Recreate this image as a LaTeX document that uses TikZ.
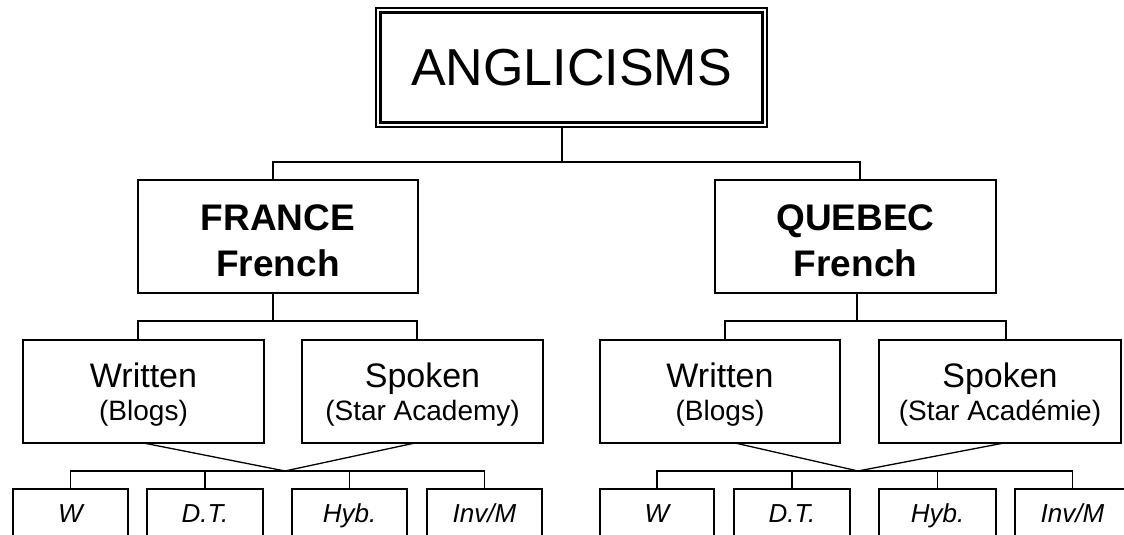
\documentclass[tikz,border=0pt]{standalone}
\usepackage{fontspec}
\setmainfont{Liberation Sans}
\begin{document}
\begin{tikzpicture}[x=1pt,y=1pt,
  box/.style={draw, line width=1.5pt, rectangle, inner sep=0pt, outer sep=0pt, align=center},
  topbox/.style={box, line width=1.2pt, minimum width=391pt, minimum height=119pt, font=\fontsize{52}{60}\selectfont},
  country/.style={box, minimum width=280pt, minimum height=113pt, font=\bfseries\fontsize{37}{46}\selectfont},
  medium/.style={box, minimum width=241pt, minimum height=103pt, font=\fontsize{28}{33}\selectfont},
  leaf/.style={draw, line width=1.5pt, rectangle, inner sep=0pt, outer sep=0pt, minimum width=115pt, minimum height=51pt, text height=22pt, text depth=5pt, font=\itshape\fontsize{26}{30}\selectfont},
  conn/.style={line width=1.3pt}]
\useasboundingbox (0,0) rectangle (1124,535);
\clip (0,0) rectangle (1124,535);

% top
\node[topbox] (ang) at (571.5,467.5) {ANGLICISMS};
\draw[line width=3.5pt] ([shift={(4.5,-4.5)}]ang.north west) rectangle ([shift={(-4.5,4.5)}]ang.south east);

% countries
\node[country] (fr) at (278,298.5) {\rule{0pt}{35pt}FRANCE\\French};
\node[country, minimum width=281pt] (qc) at (855.5,298.5) {\rule{0pt}{35pt}QUEBEC\\French};

% media
\node[medium] (fw) at (143.5,143.5) {{\fontsize{34}{33}\selectfont\rule{0pt}{30pt}Written}\\(Blogs)};
\node[medium] (fs) at (422.5,143.5) {{\fontsize{34}{33}\selectfont\rule{0pt}{30pt}Spoken}\\(Star Academy)};
\node[medium, minimum width=240pt] (qw) at (720,143.5) {{\fontsize{34}{33}\selectfont\rule{0pt}{30pt}Written}\\(Blogs)};
\node[medium, minimum width=242pt] (qs) at (1000,143.5) {{\fontsize{34}{33}\selectfont\rule{0pt}{30pt}Spoken}\\(Star Académie)};

% leaves
\node[leaf] (fl1) at (70.5,20.5) {W};
\node[leaf, minimum width=116pt] (fl2) at (205,20.5) {D.T.};
\node[leaf] (fl3) at (349.5,20.5) {Hyb.};
\node[leaf] (fl4) at (484.5,20.5) {Inv/M};
\node[leaf, minimum width=114pt] (ql1) at (657,20.5) {W};
\node[leaf, minimum width=116pt] (ql2) at (792,20.5) {D.T.};
\node[leaf, minimum width=117pt] (ql3) at (937.5,20.5) {Hyb.};
\node[leaf] (ql4) at (1072.5,20.5) {Inv/M};

% level 1 connectors
\coordinate (j0) at (562,373);
\draw[conn] ([xshift=-9.5pt]ang.south) -- (j0);
\draw[conn] ([xshift=-5pt]fr.north) |- ([xshift=4.5pt]qc.north |- j0) -- ([xshift=4.5pt]qc.north);

% level 2 connectors
\coordinate (j1) at (273,214);
\coordinate (j2) at (857,214);
\draw[conn] ([xshift=-5pt]fr.south) -- (j1);
\draw[conn] ([xshift=-5.5pt]fw.north) |- ([xshift=-5.5pt]fs.north |- j1) -- ([xshift=-5.5pt]fs.north);
\draw[conn] ([xshift=1.5pt]qc.south) -- (j2);
\draw[conn] ([xshift=5pt]qw.north) |- ([xshift=6pt]qs.north |- j2) -- ([xshift=6pt]qs.north);

% level 3 connectors
\coordinate (m1) at (285,64);
\coordinate (m2) at (858,64);
\draw[conn] (fw.south) -- (m1) -- ([xshift=-7.5pt]fs.south);
\draw[conn] (fl1.north) |- (fl4.north |- m1) -- (fl4.north);
\draw[conn] (fl2.north) -- (fl2.north |- m1);
\draw[conn] (fl3.north) -- (fl3.north |- m1);
\draw[conn] ([xshift=15pt]qw.south) -- (m2) -- ([xshift=4pt]qs.south);
\draw[conn] (ql1.north) |- (ql4.north |- m2) -- (ql4.north);
\draw[conn] (ql2.north) -- (ql2.north |- m2);
\draw[conn] (ql3.north) -- (ql3.north |- m2);
\end{tikzpicture}
\end{document}
